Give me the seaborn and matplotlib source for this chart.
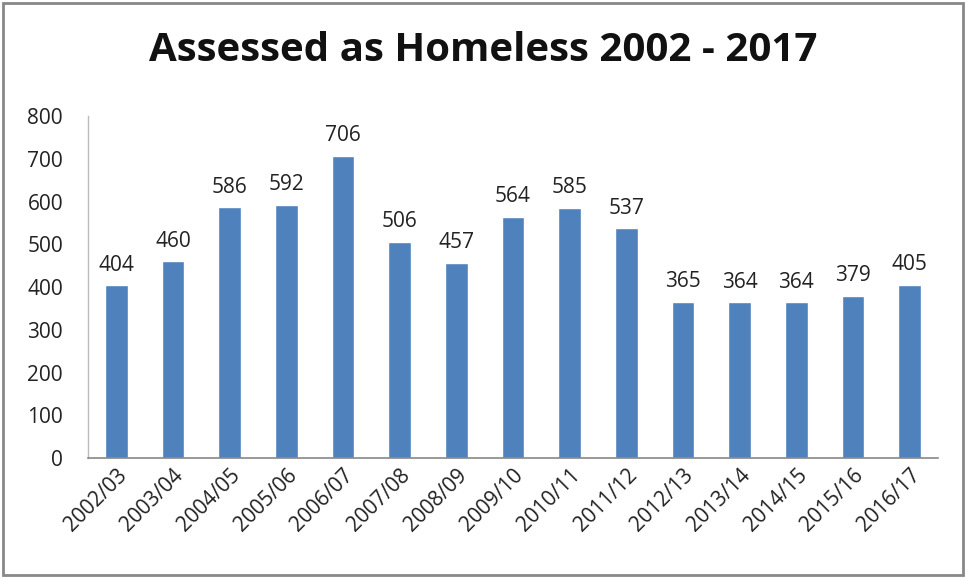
import matplotlib
matplotlib.use("Agg")
import matplotlib.pyplot as plt
import seaborn as sns
import pandas as pd
from matplotlib.patches import Rectangle

years = ["2002/03", "2003/04", "2004/05", "2005/06", "2006/07", "2007/08", "2008/09",
         "2009/10", "2010/11", "2011/12", "2012/13", "2013/14", "2014/15", "2015/16", "2016/17"]
values = [404, 460, 586, 592, 706, 506, 457, 564, 585, 537, 365, 364, 364, 379, 405]
yticks = [0, 100, 200, 300, 400, 500, 600, 700, 800]

sns.set_theme(style="white")
plt.rcParams['font.family'] = ['Open Sans', 'DejaVu Sans']

df = pd.DataFrame({"year": years, "value": values})

fig = plt.figure(figsize=(9.66, 5.78), dpi=100)
ax = fig.add_axes([0.0911, 0.2076, 0.971 - 0.0911, 0.7993 - 0.2076])
sns.barplot(data=df, x="year", y="value", color="#4F81BD", saturation=1, width=0.4, ax=ax)

ax.set_ylim(0, 800)
ax.set_xlim(-0.5, len(years) - 0.5)
ax.set_yticks(yticks)
ax.set_yticklabels([str(t) for t in yticks], fontsize=15, color="#222222")
ax.set_xlabel("")
ax.set_ylabel("")
ax.tick_params(axis="y", length=0, pad=18)
ax.tick_params(axis="x", length=0, pad=5)
for lab in ax.get_xticklabels():
    lab.set_rotation(45)
    lab.set_ha("right")
    lab.set_rotation_mode("anchor")
    lab.set_fontsize(15)
    lab.set_color("#222222")

for s in ["top", "right"]:
    ax.spines[s].set_visible(False)
ax.spines["left"].set_color("#BBBBBB")
ax.spines["left"].set_linewidth(1)
ax.spines["bottom"].set_color("#888888")
ax.spines["bottom"].set_linewidth(1.2)

for container in ax.containers:
    ax.bar_label(container, labels=[str(v) for v in values], padding=7, fontsize=15, color="#222222")

fig.text(0.5, 0.913, "Assessed as Homeless 2002 - 2017", ha="center", va="center",
         fontsize=29, fontweight="bold", color="#111111")

fig.patches.append(Rectangle((0.003, 0.005), 0.994, 0.99, transform=fig.transFigure,
                             fill=False, edgecolor="#888888", linewidth=2))

fig.savefig("out.png", dpi=100)
